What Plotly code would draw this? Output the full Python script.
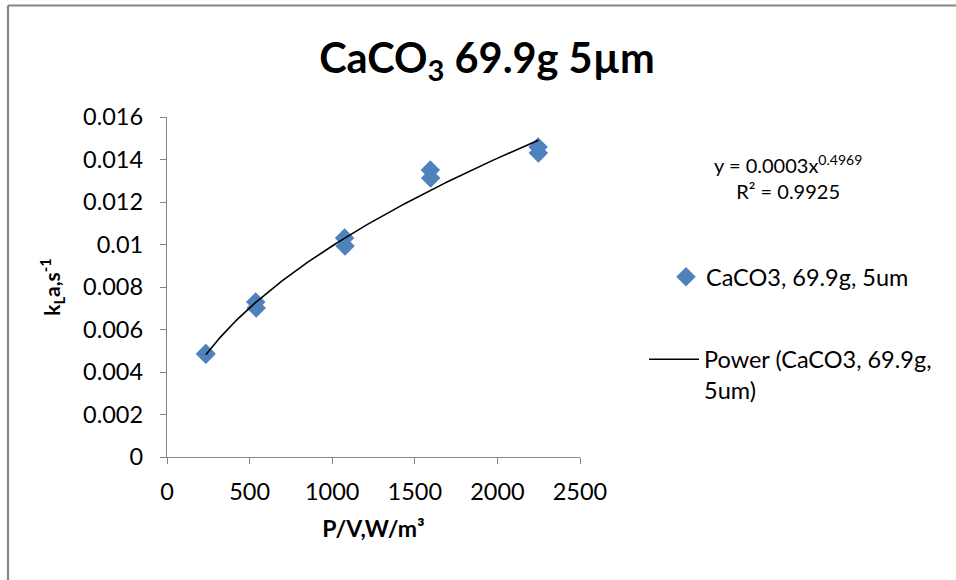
import numpy as np
import plotly.graph_objects as go

# Measured kLa against specific power input (duplicate runs per power level)
power_per_volume = [235, 235, 537, 540, 1075, 1078, 1594, 1596, 2246, 2248]
kla_values = [0.00487, 0.00483, 0.00729, 0.00701, 0.01031, 0.00993, 0.01351, 0.01313, 0.01459, 0.01431]

y_tick_vals = [0, 0.002, 0.004, 0.006, 0.008, 0.01, 0.012, 0.014, 0.016]
y_tick_text = ["0", "0.002", "0.004", "0.006", "0.008", "0.01", "0.012", "0.014", "0.016"]
x_tick_vals = [0, 500, 1000, 1500, 2000, 2500]

series_name = "CaCO3, 69.9g, 5um"
trend_name = "Power (CaCO3, 69.9g,<br>5um)"
equation_text = "y = 0.0003x<sup>0.4969</sup><br>R² = 0.9925"

# Power-law trendline y = a * x^b, fitted by least squares in log space
x_arr = np.array(power_per_volume, dtype=float)
y_arr = np.array(kla_values, dtype=float)
b, ln_a = np.polyfit(np.log(x_arr), np.log(y_arr), 1)
x_fit = np.linspace(x_arr.min(), x_arr.max(), 200)
y_fit = np.exp(ln_a) * x_fit ** b

FONT = "Lato"
GREY = "#868686"
W, H = 956, 580
L, R, T, B = 167, 580, 117, 457  # plot area in pixels


def px(xp):
    return (xp - L) / (R - L)


def py(yp):
    return (B - yp) / (B - T)


fig = go.Figure()
fig.add_trace(go.Scatter(
    x=power_per_volume, y=kla_values, mode="markers", name=series_name,
    marker=dict(symbol="diamond", size=15, color="#4F81BD", line=dict(width=0)),
    legend="legend",
))
fig.add_trace(go.Scatter(
    x=x_fit, y=y_fit, mode="lines", name=trend_name,
    line=dict(color="black", width=1.6),
    legend="legend2",
))

axis_common = dict(
    showgrid=False, zeroline=False, showline=True, linecolor=GREY, linewidth=1.3,
    ticks="outside", ticklen=6, tickcolor=GREY, tickwidth=1.3,
    tickfont=dict(family=FONT, size=23.5, color="black"),
)

fig.update_layout(
    width=W, height=H,
    margin=dict(l=L, r=W - R, t=T, b=H - B),
    paper_bgcolor="white", plot_bgcolor="white",
    font=dict(family=FONT, color="black"),
    showlegend=True,
    title=dict(
        text="<b>CaCO<sub>3</sub> 69.9g 5µm</b>",
        font=dict(family=FONT, size=41.5, color="black"),
        xref="paper", x=px(487), xanchor="center",
        yref="container", y=1 - 58 / H, yanchor="middle",
    ),
    xaxis=dict(
        range=[0, 2500], tickvals=x_tick_vals, **axis_common,
        ticklabelstandoff=8,
        title=dict(text="<b>P/V,W/m³</b>", font=dict(family=FONT, size=23), standoff=16),
    ),
    yaxis=dict(
        range=[0, 0.016], tickvals=y_tick_vals, ticktext=y_tick_text, **axis_common,
        title=dict(text="<b>k<sub>L</sub>a,s<sup>-1</sup></b>", font=dict(family=FONT, size=21), standoff=16),
        ticklabelstandoff=12,
    ),
    legend=dict(
        x=px(666), y=py(277), xanchor="left", yanchor="middle",
        font=dict(family=FONT, size=23.5, color="black"),
        bgcolor="rgba(0,0,0,0)", itemwidth=30,
    ),
    legend2=dict(
        x=px(644), y=py(375), xanchor="left", yanchor="middle",
        font=dict(family=FONT, size=23.5, color="black"),
        bgcolor="rgba(0,0,0,0)", itemwidth=50, valign="top",
    ),
    annotations=[dict(
        text=equation_text, xref="paper", yref="paper",
        x=px(788), y=py(177), xanchor="center", yanchor="middle",
        showarrow=False, align="center",
        font=dict(family=FONT, size=20, color="black"),
    )],
    shapes=[
        dict(type="line", xref="paper", yref="paper", x0=px(8), x1=px(W), y0=py(5.5), y1=py(5.5),
             line=dict(color=GREY, width=2)),
        dict(type="line", xref="paper", yref="paper", x0=px(8), x1=px(8), y0=py(5.5), y1=py(H),
             line=dict(color=GREY, width=2.2)),
    ],
)

fig.write_html("out.html")
